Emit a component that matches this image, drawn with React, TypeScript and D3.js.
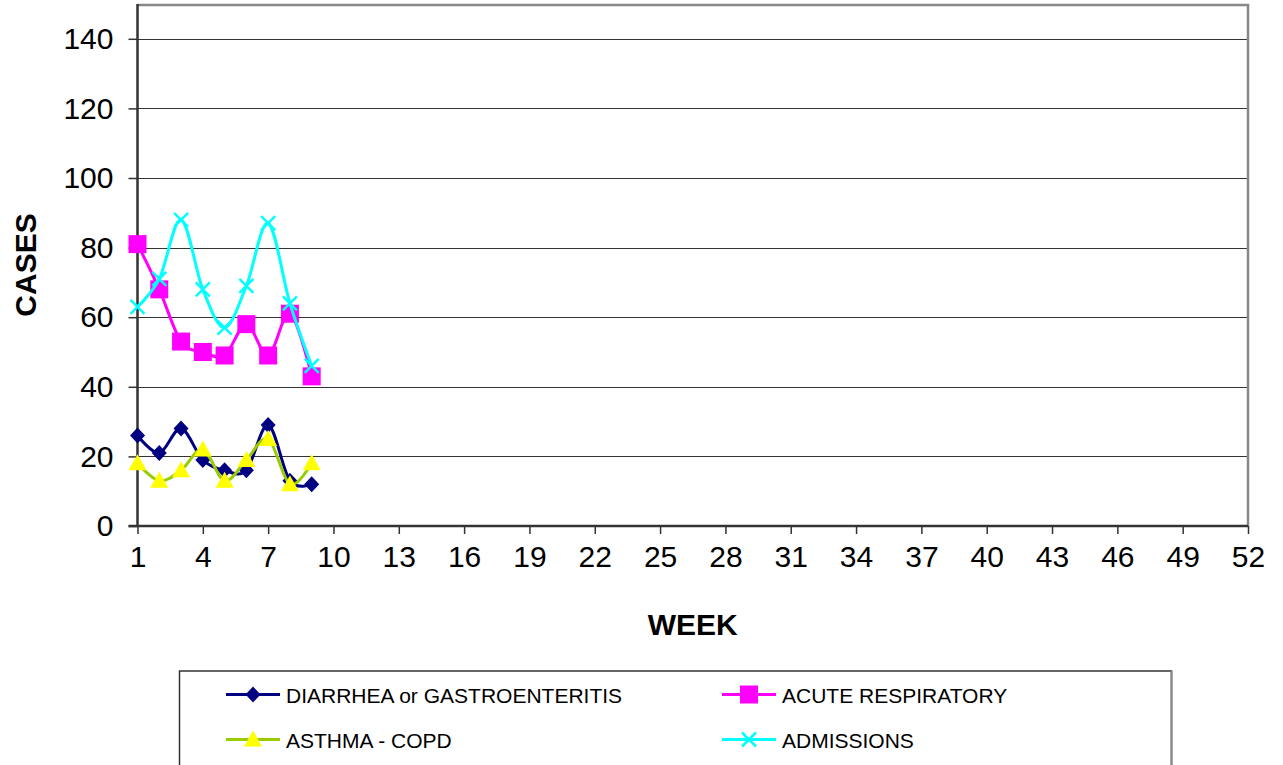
import React, { useEffect, useRef } from 'react';
import * as d3 from 'd3';

// week numbers with data so far
const weeks = [1, 2, 3, 4, 5, 6, 7, 8, 9];

// case counts per week
const diarrhea = [26, 21, 28, 19, 16, 16, 29, 13, 12];
const acuteResp = [81, 68, 53, 50, 49, 58, 49, 61, 43];
const asthma = [18, 13, 16, 22, 13, 19, 25, 12, 18];
const admissions = [63, 71, 88, 68, 57, 69, 87, 64, 46];

const xTicks = [1, 4, 7, 10, 13, 16, 19, 22, 25, 28, 31, 34, 37, 40, 43, 46, 49, 52];
const yTicks = [0, 20, 40, 60, 80, 100, 120, 140];

const seriesNames = ['DIARRHEA or GASTROENTERITIS', 'ACUTE RESPIRATORY', 'ASTHMA - COPD', 'ADMISSIONS'];

const FONT = '"Liberation Sans", Arial, sans-serif';

const App = () => {
    const svgRef = useRef(null);

    useEffect(() => {
        document.body.style.margin = '0';
        const svg = d3.select(svgRef.current);
        svg.selectAll('*').remove();

        const left = 137.5, right = 1248, top = 4, bottom = 526;

        const x = d3.scaleLinear().domain([1, 52]).range([left, right]);
        const y = d3.scaleLinear().domain([0, 150]).range([bottom, top]);

        svg.append('rect').attr('width', 1283).attr('height', 765).attr('fill', '#fff');

        // gridlines
        svg.append('g')
            .selectAll('line')
            .data(yTicks.filter(d => d > 0))
            .join('line')
            .attr('x1', left).attr('x2', right)
            .attr('y1', d => Math.round(y(d)) + 0.5).attr('y2', d => Math.round(y(d)) + 0.5)
            .attr('stroke', '#333').attr('stroke-width', 1);

        // plot frame (top / right in gray)
        svg.append('path')
            .attr('d', `M${left},${top + 1}H${right}V${bottom}`)
            .attr('fill', 'none').attr('stroke', '#888').attr('stroke-width', 2.5);

        // y axis
        const yAxis = svg.append('g')
            .attr('transform', `translate(${left},0)`)
            .call(d3.axisLeft(y).tickValues(yTicks).tickSize(9).tickPadding(15).tickFormat(d => `${d}`));
        yAxis.select('.domain').attr('stroke', '#333').attr('stroke-width', 2.5).attr('d', `M0,${top}V${bottom}`);
        yAxis.selectAll('.tick line').attr('stroke', '#333').attr('stroke-width', 1.5);
        yAxis.selectAll('.tick text').attr('font-family', FONT).attr('font-size', 30).attr('fill', '#000');

        // x axis
        const xAxis = svg.append('g')
            .attr('transform', `translate(0,${bottom})`)
            .call(d3.axisBottom(x).tickValues(xTicks).tickSize(8).tickPadding(12).tickFormat(d => `${d}`));
        xAxis.select('.domain').attr('stroke', '#333').attr('stroke-width', 2.5).attr('d', `M${left - 9},0H${right}`);
        xAxis.selectAll('.tick line').attr('stroke', '#333').attr('stroke-width', 1.5);
        xAxis.selectAll('.tick text').attr('font-family', FONT).attr('font-size', 30).attr('fill', '#000');

        // axis titles
        svg.append('text')
            .attr('transform', `translate(36,${(top + bottom) / 2}) rotate(-90)`)
            .attr('text-anchor', 'middle')
            .attr('font-family', FONT).attr('font-weight', 'bold').attr('font-size', 30)
            .text('CASES');
        svg.append('text')
            .attr('x', (left + right) / 2).attr('y', 635)
            .attr('text-anchor', 'middle')
            .attr('font-family', FONT).attr('font-weight', 'bold').attr('font-size', 30)
            .text('WEEK');

        const line = d3.line<number>()
            .x((_, i) => x(weeks[i]))
            .y(d => y(d))
            .curve(d3.curveCardinal.tension(0));

        // marker drawers
        const diamond = (g, cx, cy) => g.append('path')
            .attr('d', `M${cx},${cy - 8}L${cx + 7.5},${cy}L${cx},${cy + 8}L${cx - 7.5},${cy}Z`)
            .attr('fill', '#000080');
        const square = (g, cx, cy) => g.append('rect')
            .attr('x', cx - 9).attr('y', cy - 9).attr('width', 18).attr('height', 18)
            .attr('fill', '#ff00ff');
        const triangle = (g, cx, cy) => g.append('path')
            .attr('d', `M${cx},${cy - 9}L${cx + 9},${cy + 7}L${cx - 9},${cy + 7}Z`)
            .attr('fill', '#ffff00');
        const cross = (g, cx, cy) => g.append('path')
            .attr('d', `M${cx - 7},${cy - 7}L${cx + 7},${cy + 7}M${cx - 7},${cy + 7}L${cx + 7},${cy - 7}`)
            .attr('stroke', '#00ffff').attr('stroke-width', 2.5).attr('fill', 'none');

        const series = [
            { values: diarrhea, stroke: '#000080', marker: diamond },
            { values: acuteResp, stroke: '#ff00ff', marker: square },
            { values: asthma, stroke: '#99cc00', marker: triangle },
            { values: admissions, stroke: '#00ffff', marker: cross },
        ];

        series.forEach(s => {
            const g = svg.append('g');
            g.append('path')
                .datum(s.values)
                .attr('d', line)
                .attr('fill', 'none')
                .attr('stroke', s.stroke)
                .attr('stroke-width', 3);
            s.values.forEach((v, i) => s.marker(g, x(weeks[i]), y(v)));
        });

        // legend
        const lg = svg.append('g');
        lg.append('rect')
            .attr('x', 179.5).attr('y', 671).attr('width', 992).attr('height', 120)
            .attr('fill', '#fff').attr('stroke', '#333').attr('stroke-width', 1.5);
        lg.append('line').attr('x1', 1171.5).attr('x2', 1171.5).attr('y1', 671).attr('y2', 765)
            .attr('stroke', '#888').attr('stroke-width', 2);

        const cols = [226, 722];
        const rows = [694.5, 739.5];
        const order = [0, 1, 2, 3];
        order.forEach(k => {
            const lx = cols[k % 2], ly = rows[Math.floor(k / 2)];
            const s = series[k];
            lg.append('line')
                .attr('x1', lx).attr('x2', lx + 54).attr('y1', ly).attr('y2', ly)
                .attr('stroke', s.stroke).attr('stroke-width', 3);
            s.marker(lg, lx + 27, ly);
            lg.append('text')
                .attr('x', lx + 60).attr('y', ly + 8)
                .attr('font-family', FONT).attr('font-size', 21).attr('fill', '#000')
                .text(seriesNames[k]);
        });
    }, []);

    return <svg ref={svgRef} width={1283} height={765} style={{ display: 'block' }} />;
};

export default App;
